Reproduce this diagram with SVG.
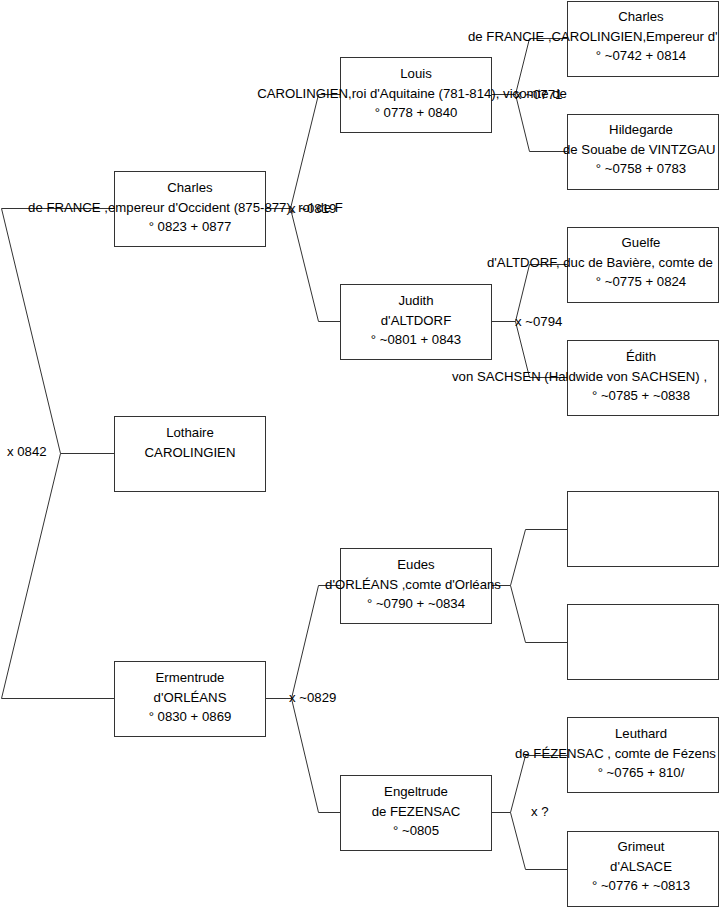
<svg xmlns="http://www.w3.org/2000/svg" width="719" height="908" viewBox="0 0 719 908">
<style>
.box{fill:#fff;stroke:#333;stroke-width:1}
.ln{fill:none;stroke:#333;stroke-width:1}
text{font-family:"Liberation Sans",Arial,sans-serif;font-size:13.2px;fill:#000}
.c{text-anchor:middle}
</style>
<rect width="719" height="908" fill="#fff"/>
<g id="connectors">
<polyline class="ln" points="114,208.5 1.5,208.5 60.5,453.5 1.5,698.5 114,698.5"/>
<line class="ln" x1="60.5" y1="453.5" x2="114" y2="453.5"/>
<polyline class="ln" points="340,94.5 318.5,94.5 290.5,208.5 318.5,321.5 340,321.5"/>
<line class="ln" x1="265" y1="208.5" x2="290.5" y2="208.5"/>
<polyline class="ln" points="340,585.5 318.5,585.5 291.5,698.5 318.5,812.5 340,812.5"/>
<line class="ln" x1="265" y1="698.5" x2="291.5" y2="698.5"/>
<polyline class="ln" points="567,38.5 529.5,38.5 515.5,94.5 529.5,151.5 567,151.5"/>
<line class="ln" x1="491" y1="94.5" x2="515.5" y2="94.5"/>
<polyline class="ln" points="567,264.5 529.5,264.5 515.5,321.5 529.5,377.5 567,377.5"/>
<line class="ln" x1="491" y1="321.5" x2="515.5" y2="321.5"/>
<polyline class="ln" points="567,529.5 525.5,529.5 510.5,585.5 525.5,642.5 567,642.5"/>
<line class="ln" x1="491" y1="585.5" x2="510.5" y2="585.5"/>
<polyline class="ln" points="567,755.5 525.5,755.5 510.5,812.5 525.5,869.5 567,869.5"/>
<line class="ln" x1="491" y1="812.5" x2="510.5" y2="812.5"/>
<text x="7" y="456">x 0842</text>
<text x="289" y="213">x ~0819</text>
<text x="515" y="99">x ~0771</text>
<text x="515" y="326">x ~0794</text>
<text x="289" y="702">x ~0829</text>
<text x="531" y="816">x ?</text>
</g>
<g id="charles">
<rect class="box" x="114.5" y="171.5" width="151" height="75"/>
<text class="c" x="190" y="192">Charles</text>
<text class="c" x="185.5" y="212">de FRANCE ,empereur d'Occident (875-877), roi de F</text>
<text class="c" x="190" y="231">° 0823 + 0877</text>
</g>
<g id="lothaire">
<rect class="box" x="114.5" y="416.5" width="151" height="75"/>
<text class="c" x="190" y="437">Lothaire</text>
<text class="c" x="190" y="457">CAROLINGIEN</text>
</g>
<g id="ermentrude">
<rect class="box" x="114.5" y="661.5" width="151" height="75"/>
<text class="c" x="190" y="682">Ermentrude</text>
<text class="c" x="190" y="702">d'ORLÉANS</text>
<text class="c" x="190" y="721">° 0830 + 0869</text>
</g>
<g id="louis">
<rect class="box" x="340.5" y="57.5" width="151" height="75"/>
<text class="c" x="416" y="78">Louis</text>
<text class="c" x="412" y="98">CAROLINGIEN,roi d'Aquitaine (781-814), vicomte de</text>
<text class="c" x="416" y="117">° 0778 + 0840</text>
</g>
<g id="judith">
<rect class="box" x="340.5" y="284.5" width="151" height="75"/>
<text class="c" x="416" y="305">Judith</text>
<text class="c" x="416" y="325">d'ALTDORF</text>
<text class="c" x="416" y="344">° ~0801 + 0843</text>
</g>
<g id="eudes">
<rect class="box" x="340.5" y="548.5" width="151" height="75"/>
<text class="c" x="416" y="569">Eudes</text>
<text class="c" x="413" y="589">d'ORLÉANS ,comte d'Orléans</text>
<text class="c" x="416" y="608">° ~0790 + ~0834</text>
</g>
<g id="engeltrude">
<rect class="box" x="340.5" y="775.5" width="151" height="75"/>
<text class="c" x="416" y="796">Engeltrude</text>
<text class="c" x="416" y="816">de FEZENSAC</text>
<text class="c" x="416" y="835">° ~0805</text>
</g>
<g id="charles-pere">
<rect class="box" x="567.5" y="1.5" width="151" height="75"/>
<text class="c" x="641" y="21">Charles</text>
<text x="468" y="41">de FRANCIE ,CAROLINGIEN,Empereur d'</text>
<text class="c" x="641" y="60">° ~0742 + 0814</text>
</g>
<g id="hildegarde">
<rect class="box" x="567.5" y="114.5" width="151" height="75"/>
<text class="c" x="641" y="134">Hildegarde</text>
<text x="563" y="154">de Souabe de VINTZGAU</text>
<text class="c" x="641" y="173">° ~0758 + 0783</text>
</g>
<g id="guelfe">
<rect class="box" x="567.5" y="227.5" width="151" height="75"/>
<text class="c" x="641" y="247">Guelfe</text>
<text x="487" y="267">d'ALTDORF, duc de Bavière, comte de</text>
<text class="c" x="641" y="286">° ~0775 + 0824</text>
</g>
<g id="edith">
<rect class="box" x="567.5" y="340.5" width="151" height="75"/>
<text class="c" x="641" y="361">Édith</text>
<text x="452" y="381">von SACHSEN (Haldwide von SACHSEN) ,</text>
<text class="c" x="641" y="400">° ~0785 + ~0838</text>
</g>
<g id="inconnu1">
<rect class="box" x="567.5" y="491.5" width="151" height="75"/>
</g>
<g id="inconnu2">
<rect class="box" x="567.5" y="604.5" width="151" height="75"/>
</g>
<g id="leuthard">
<rect class="box" x="567.5" y="717.5" width="151" height="75"/>
<text class="c" x="641" y="738">Leuthard</text>
<text x="515" y="758">de FÉZENSAC , comte de Fézens</text>
<text class="c" x="641" y="777">° ~0765 + 810/</text>
</g>
<g id="grimeut">
<rect class="box" x="567.5" y="831.5" width="151" height="75"/>
<text class="c" x="641" y="851">Grimeut</text>
<text class="c" x="641" y="871">d'ALSACE</text>
<text class="c" x="641" y="890">° ~0776 + ~0813</text>
</g>
</svg>
